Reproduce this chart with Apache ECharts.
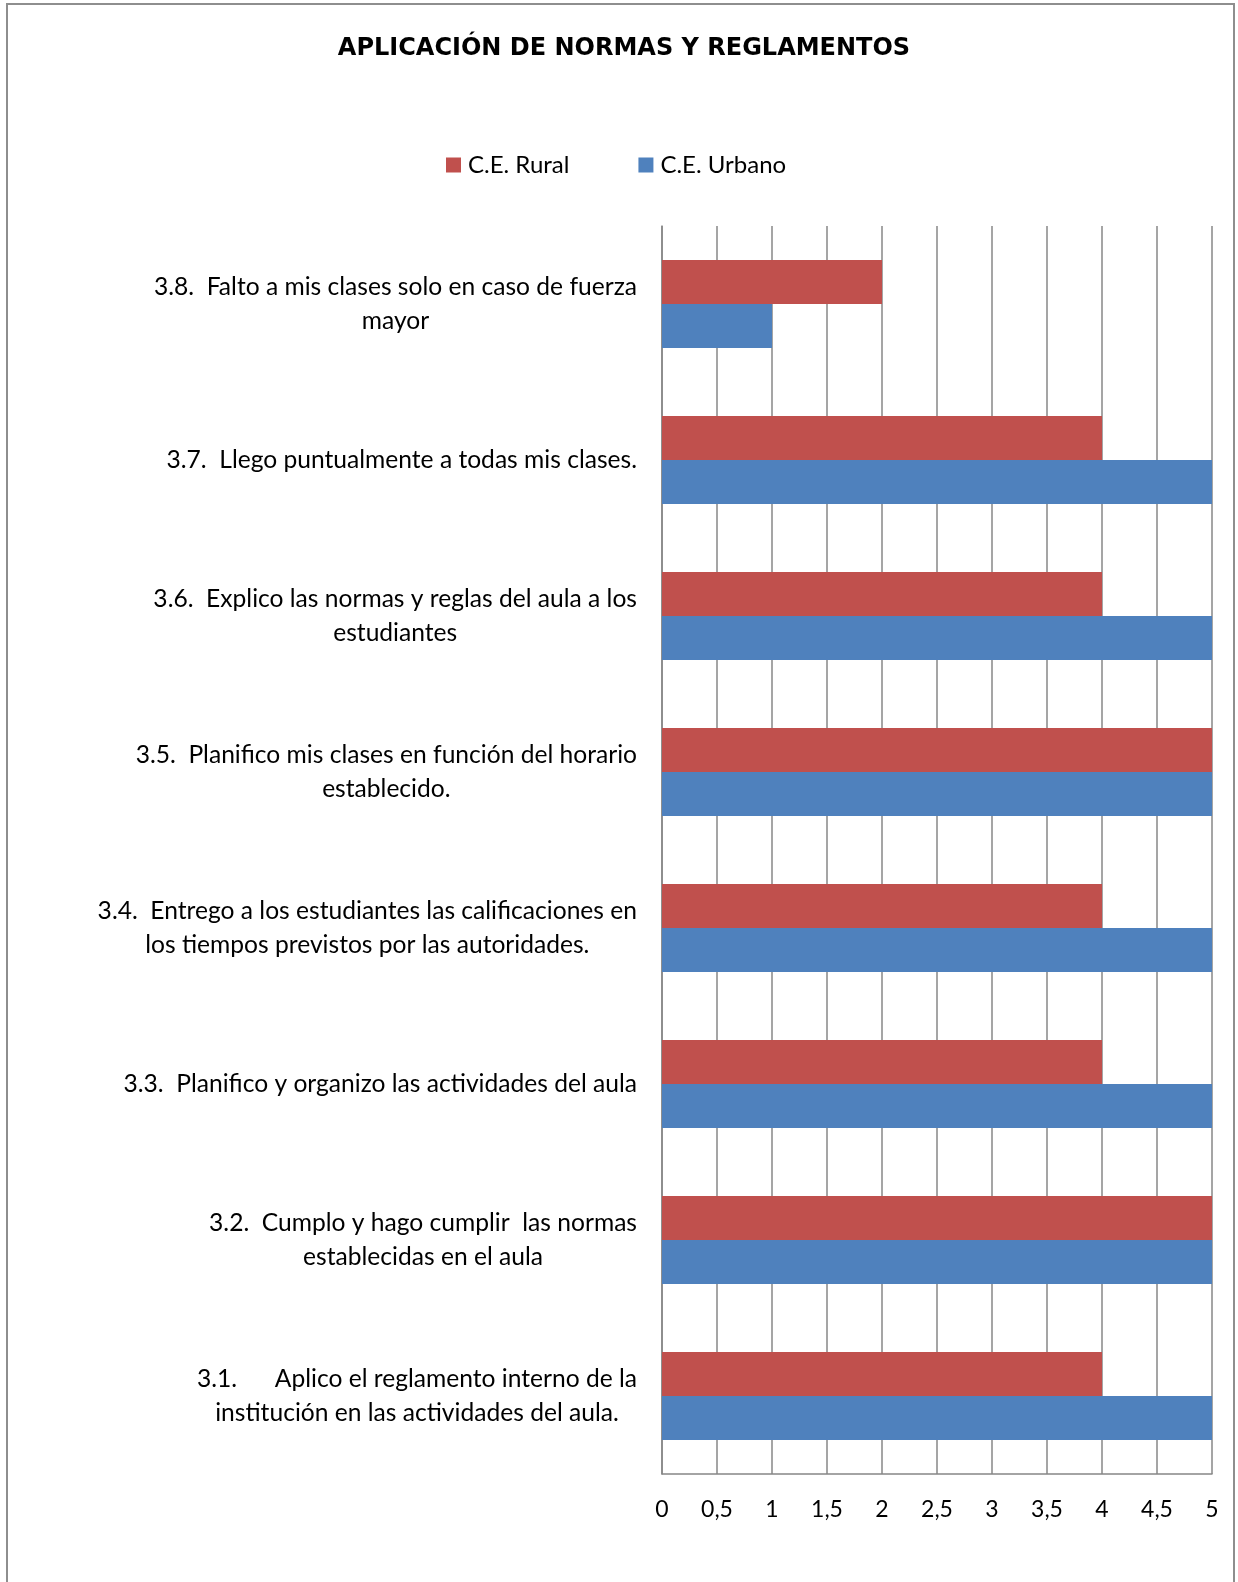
<!DOCTYPE html>
<html>
<head>
<meta charset="utf-8">
<script src="https://cdn.jsdelivr.net/npm/echarts@6/dist/echarts.min.js"></script>
<style>
html,body{margin:0;padding:0;background:#fff;}
#chart{width:1238px;height:1582px;}
</style>
</head>
<body>
<div id="chart"></div>
<script>
const categories = [
  '3.1.      Aplico el reglamento interno de la\ninstitución en las actividades del aula.',
  '3.2.  Cumplo y hago cumplir  las normas\nestablecidas en el aula',
  '3.3.  Planifico y organizo las actividades del aula',
  '3.4.  Entrego a los estudiantes las calificaciones en\nlos tiempos previstos por las autoridades.',
  '3.5.  Planifico mis clases en función del horario\nestablecido.',
  '3.6.  Explico las normas y reglas del aula a los\nestudiantes',
  '3.7.  Llego puntualmente a todas mis clases.',
  '3.8.  Falto a mis clases solo en caso de fuerza\nmayor'
];
const seriesNames = ['C.E. Rural', 'C.E. Urbano'];
const ruralValues = [4, 5, 4, 4, 5, 4, 4, 2];
const urbanoValues = [5, 5, 5, 5, 5, 5, 5, 1];
const tickLabels = ['0', '0,5', '1', '1,5', '2', '2,5', '3', '3,5', '4', '4,5', '5'];

const chart = echarts.init(document.getElementById('chart'));
const labelFont = 'Lato, "Open Sans", sans-serif';

chart.setOption({
  animation: false,
  backgroundColor: '#ffffff',
  graphic: [{
    type: 'rect',
    shape: { x: 7, y: 4, width: 1227, height: 1700 },
    style: { fill: 'none', stroke: '#8e8e8e', lineWidth: 2 },
    silent: true
  }],
  title: {
    text: 'APLICACIÓN DE NORMAS Y REGLAMENTOS',
    left: 619,
    textAlign: 'center',
    top: 32,
    textStyle: {
      fontFamily: '"DejaVu Sans", sans-serif',
      fontWeight: 'bold',
      fontSize: 24,
      color: '#000'
    }
  },
  legend: {
    data: seriesNames,
    left: 441,
    top: 148,
    icon: 'rect',
    itemWidth: 15,
    itemHeight: 15,
    itemGap: 69,
    textStyle: { fontFamily: labelFont, fontSize: 24, color: '#000', padding: [0, 0, 0, 2] }
  },
  grid: { left: 662, right: 26, top: 226, bottom: 108, containLabel: false },
  xAxis: {
    type: 'value',
    min: 0,
    max: 5,
    interval: 0.5,
    axisLine: { show: true, lineStyle: { color: '#878787', width: 1.5 } },
    axisTick: { show: false },
    splitLine: { show: true, lineStyle: { color: '#878787', width: 1.5 } },
    axisLabel: {
      margin: 24,
      fontFamily: labelFont,
      fontSize: 23,
      color: '#000',
      formatter: function (v) {
        const i = Math.round(v / 0.5);
        return tickLabels[i] !== undefined ? tickLabels[i] : String(v);
      }
    }
  },
  yAxis: {
    type: 'category',
    data: categories,
    axisLine: { show: true, lineStyle: { color: '#878787', width: 1.5 } },
    axisTick: { show: false },
    splitLine: { show: false },
    axisLabel: {
      interval: 0,
      margin: 25,
      align: 'right',
      fontFamily: labelFont,
      fontSize: 24.6,
      color: '#000',
      formatter: function (val) {
        return val.split('\n').map(function (l) { return '{c|' + l + '}'; }).join('\n');
      },
      rich: {
        c: { align: 'center', fontFamily: labelFont, fontSize: 24.6, color: '#000', lineHeight: 34 }
      }
    }
  },
  series: [
    {
      name: seriesNames[0],
      type: 'bar',
      data: ruralValues,
      itemStyle: { color: '#C0504D' },
      barGap: '0%',
      barCategoryGap: '43.6%'
    },
    {
      name: seriesNames[1],
      type: 'bar',
      data: urbanoValues,
      itemStyle: { color: '#4F81BD' },
      barGap: '0%',
      barCategoryGap: '43.6%'
    }
  ]
});
</script>
</body>
</html>
